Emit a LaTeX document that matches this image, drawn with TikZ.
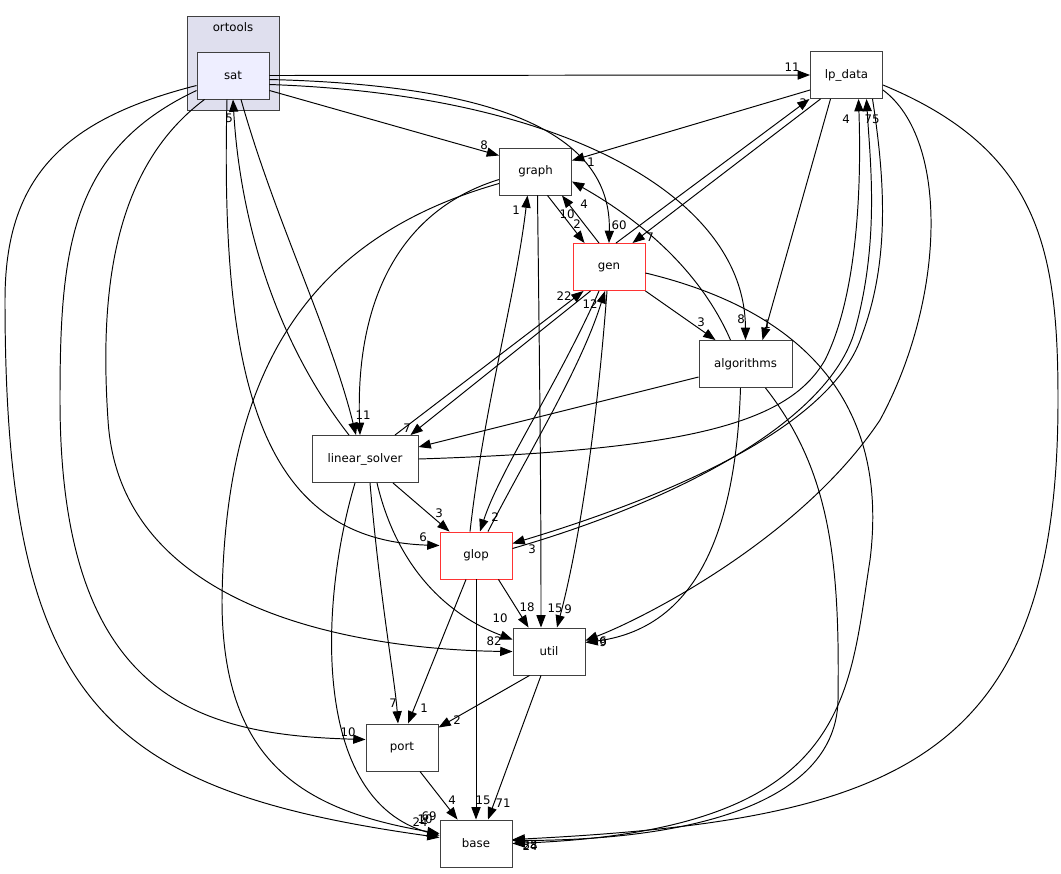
\documentclass[tikz,border=0pt]{standalone}
\usepackage{fontspec}
\setmainfont{DejaVu Sans}
\usetikzlibrary{arrows.meta, positioning, calc}
\definecolor{boxline}{HTML}{404040}
\definecolor{clusterfill}{HTML}{DFDFEE}
\definecolor{satfill}{HTML}{EEEEFF}
\definecolor{hotline}{HTML}{FF3333}
\newcommand{\dirfont}{\fontsize{6.7}{8}\selectfont}

\begin{document}
\begin{tikzpicture}[
    x=0.02cm, y=-0.02cm,
    every node/.style={font=\dirfont},
    box/.style={draw=boxline, line width=0.55pt, fill=white, minimum width=1.44cm, minimum height=0.94cm, inner sep=0pt},
    hotbox/.style={box, draw=hotline},
    dep/.style={draw=black, line width=0.55pt, -{Triangle[length=7pt, width=5.2pt]}},
    num/.style={inner sep=0pt, text=black},
]
\useasboundingbox (0,0) rectangle (1061,873);

% the ortools cluster with sat inside
\node[draw=boxline, line width=0.55pt, fill=clusterfill, minimum width=1.84cm, minimum height=1.88cm] (ortools) at (233,63) {};
\node (ortoolstitle) at (233,27) {ortools};
\node[box, fill=satfill] (sat) at (233,75.5) {sat};

% directories
\node[box] (lp_data) at (846.5,75) {lp\_data};
\node[box] (graph) at (535.5,171.5) {graph};
\node[hotbox] (gen) at (609,267) {gen};
\node[box, minimum width=1.86cm] (algorithms) at (745.5,364) {algorithms};
\node[box, minimum width=2.12cm] (linear_solver) at (365,459) {linear\_solver};
\node[hotbox] (glop) at (476,555.5) {glop};
\node[box] (util) at (549,651.5) {util};
\node[box] (port) at (402,747.5) {port};
\node[box] (base) at (476,843.5) {base};

% from sat
\draw[dep] (sat.east) -- (lp_data.west);
\draw[dep] ($(sat.east)+(0,15)$) -- ($(graph.west)+(0,-16)$);
\draw[dep] ($(sat.east)+(0,4)$) .. controls (490,85) and (612,130) .. (gen.north);
\draw[dep] ($(sat.east)+(0,9)$) .. controls (570,95) and (745,200) .. (algorithms.north);
\draw[dep] ($(sat.south)+(8,0)$) .. controls (275,220) and (330,330) .. ($(linear_solver.north)+(-9,0)$);
\draw[dep] ($(sat.south)+(-6,0)$) .. controls (220,380) and (260,540) .. ($(glop.west)+(0,-10)$);
\draw[dep] ($(sat.south west)+(8,0)$) .. controls (110,170) and (100,300) .. (108,420)
    .. controls (120,620) and (380,650) .. (util.west);
\draw[dep] ($(sat.west)+(0,15)$) .. controls (70,150) and (60,250) .. (60,400)
    .. controls (60,700) and (200,735) .. ($(port.west)+(0,-8)$);
\draw[dep] ($(sat.west)+(0,10)$) .. controls (60,120) and (5,180) .. (5,300)
    .. controls (5,700) and (100,790) .. ($(base.west)+(0,-6)$);

% from lp_data
\draw[dep] ($(lp_data.west)+(0,15)$) -- ($(graph.east)+(0,-11)$);
\draw[dep] ($(lp_data.south)+(-26,0)$) -- ($(gen.north east)+(-13,0)$);
\draw[dep] ($(lp_data.south)+(-16,0)$) -- ($(algorithms.north)+(17,0)$);
\draw[dep] ($(lp_data.south)+(26,0)$) .. controls (885,180) and (890,260) .. (862,335)
    .. controls (835,420) and (690,490) .. ($(glop.east)+(0,-12)$);
\draw[dep] ($(lp_data.east)+(0,15)$) .. controls (950,140) and (945,300) .. (880,420)
    .. controls (800,540) and (640,620) .. ($(util.east)+(0,-11)$);
\draw[dep] ($(lp_data.east)+(0,10)$) .. controls (1040,150) and (1058,250) .. (1058,400)
    .. controls (1058,760) and (900,820) .. ($(base.east)+(0,-4)$);

% from graph
\draw[dep] ($(graph.south)+(12,0)$) -- ($(gen.north west)+(12,0)$);
\draw[dep] ($(graph.south)+(2,0)$) .. controls (540,400) and (541,500) .. ($(util.north)+(-8,0)$);
\draw[dep] ($(graph.west)+(0,8)$) .. controls (400,210) and (355,300) .. ($(linear_solver.north)+(-5,0)$);
\draw[dep] ($(graph.west)+(0,12)$) .. controls (300,240) and (225,380) .. (222,600)
    .. controls (222,760) and (300,810) .. ($(base.west)+(0,-10)$);

% from gen
\draw[dep] ($(gen.north)+(-10,0)$) -- ($(graph.south east)+(-10,0)$);
\draw[dep] ($(gen.north)+(7,0)$) -- ($(lp_data.south)+(-37,0)$);
\draw[dep] ($(gen.south west)+(18,0)$) -- ($(linear_solver.north east)+(-8,0)$);
\draw[dep] ($(gen.south)+(-10,0)$) .. controls (560,380) and (500,470) .. ($(glop.north)+(4,0)$);
\draw[dep] (gen.south east) -- ($(algorithms.north west)+(17,0)$);
\draw[dep] ($(gen.south)+(-2,0)$) .. controls (595,450) and (575,560) .. ($(util.north)+(8,0)$);
\draw[dep] ($(gen.east)+(0,6)$) .. controls (800,310) and (890,400) .. (870,560)
    .. controls (848,700) and (850,830) .. (base.east);

% from algorithms
\draw[dep] ($(algorithms.north)+(-15,0)$) .. controls (700,270) and (640,220) .. ($(graph.east)+(0,10)$);
\draw[dep] ($(algorithms.west)+(0,13)$) -- ($(linear_solver.east)+(0,-12)$);
\draw[dep] ($(algorithms.south)+(-5,0)$) .. controls (735,560) and (680,630) .. ($(util.east)+(0,-9)$);
\draw[dep] ($(algorithms.south)+(20,0)$) .. controls (830,470) and (840,560) .. (838,700)
    .. controls (836,800) and (700,840) .. ($(base.east)+(0,-3)$);

% from linear_solver
\draw[dep] ($(linear_solver.north)+(-16,0)$) .. controls (275,340) and (240,220) .. (sat.south);
\draw[dep] (linear_solver.east) .. controls (700,450) and (790,420) .. (825,360)
    .. controls (855,300) and (862,200) .. ($(lp_data.south)+(12,0)$);
\draw[dep] ($(linear_solver.north)+(30,0)$) -- ($(gen.south west)+(11,0)$);
\draw[dep] ($(linear_solver.south)+(28,0)$) -- ($(glop.north west)+(10,0)$);
\draw[dep] ($(linear_solver.south)+(12,0)$) .. controls (400,580) and (460,620) .. ($(util.west)+(0,-12)$);
\draw[dep] ($(linear_solver.south)+(5,0)$) .. controls (380,600) and (395,680) .. ($(port.north)+(-4,0)$);
\draw[dep] ($(linear_solver.south)+(-10,0)$) .. controls (320,600) and (310,800) .. ($(base.west)+(0,-8)$);

% from glop
\draw[dep] ($(glop.north)+(-6,0)$) .. controls (485,400) and (515,300) .. ($(graph.south)+(-8,0)$);
\draw[dep] ($(glop.north)+(12,0)$) .. controls (530,450) and (580,370) .. ($(gen.south)+(-4,0)$);
\draw[dep] ($(glop.east)+(0,-7)$) .. controls (680,500) and (830,420) .. (855,330)
    .. controls (880,240) and (870,160) .. ($(lp_data.south)+(20,0)$);
\draw[dep] ($(glop.south east)+(-14,0)$) -- ($(util.north west)+(16,0)$);
\draw[dep] ($(glop.south)+(-10,0)$) -- ($(port.north)+(6,0)$);
\draw[dep] (glop.south) -- (base.north);

% from util and port
\draw[dep] ($(util.south west)+(17,0)$) -- ($(port.north east)+(0,4)$);
\draw[dep] ($(util.south)+(-8,0)$) -- ($(base.north)+(12,0)$);
\draw[dep] ($(port.south)+(18,0)$) -- ($(base.north west)+(18,0)$);

% edge counts
\foreach \x/\y/\t [count=\i] in {
    792/67/11, 484/145/8, 619/225/60, 741/319/8, 363/415/11, 229/118/5,
    423/537/6, 494/641/82, 348/732/10, 420/822/24, 591/162/1, 650/237/7,
    803/103/3, 767/324/1, 846/119/4, 872/119/75, 532/549/3, 603/642/9,
    603/641/6, 530/845/38, 530/846/24, 567/214/10, 577/224/2, 584/204/4,
    516/210/1, 555/608/15, 568/609/9, 564/296/22, 590/304/12, 407/428/7,
    495/517/2, 701/322/3, 439/513/3, 500/618/10, 393/703/7, 527/607/18,
    424/708/1, 483/800/15, 457/720/2, 503/803/71, 452/800/4, 429/816/69,
    425/819/10}
    \node[num] (count\i) at (\x,\y) {\t};

\end{tikzpicture}
\end{document}
